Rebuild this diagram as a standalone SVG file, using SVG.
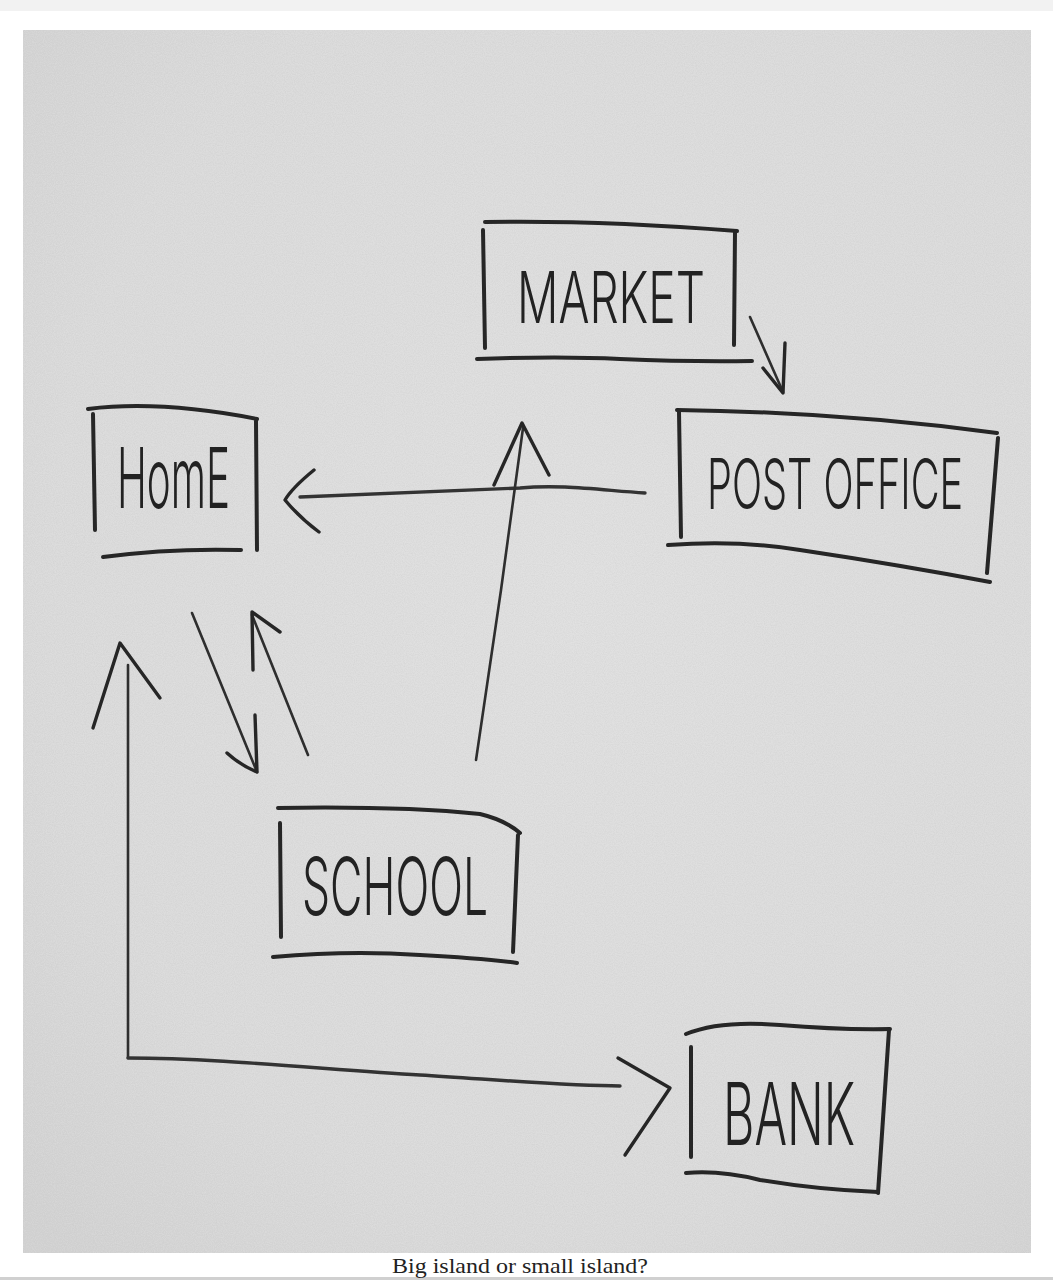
<svg xmlns="http://www.w3.org/2000/svg" width="1053" height="1280" viewBox="0 0 1053 1280">
  <defs>
    <radialGradient id="paper" cx="0.55" cy="0.45" r="0.75">
      <stop offset="0" stop-color="#e5e5e5"/>
      <stop offset="0.7" stop-color="#e0e0e0"/>
      <stop offset="1" stop-color="#d8d8d8"/>
    </radialGradient>
    <filter id="grain" x="0" y="0" width="1" height="1">
      <feTurbulence type="fractalNoise" baseFrequency="0.9" numOctaves="2" seed="3" result="n"/>
      <feColorMatrix type="matrix" values="0 0 0 0 0  0 0 0 0 0  0 0 0 0 0  0 0 0 0.06 0" in="n" result="g"/>
      <feComposite in="g" in2="SourceGraphic" operator="in"/>
    </filter>
    <style>
      .box { fill: none; stroke: #262626; stroke-width: 4; stroke-linecap: round; stroke-linejoin: round; }
      .wire { fill: none; stroke: #2e2e2e; stroke-width: 2.6; stroke-linecap: round; stroke-linejoin: round; }
      .wire.thick { stroke-width: 3.4; stroke: #333333; }
      .head { fill: none; stroke: #262626; stroke-width: 3.4; stroke-linecap: round; stroke-linejoin: round; }
      .lbl { font-family: Inter, "Liberation Sans", sans-serif; font-weight: 300; fill: #222222; }
      .cap { font-family: "Liberation Serif", serif; font-size: 21px; fill: #222222; }
    </style>
  </defs>

  <!-- page -->
  <rect x="0" y="0" width="1053" height="1280" fill="#ffffff"/>
  <rect x="0" y="0" width="1053" height="11" fill="#f2f2f2"/>
  <rect x="0" y="1277" width="1053" height="3" fill="#d0d0d0"/>
  <!-- photo of paper -->
  <rect x="23" y="30" width="1008" height="1223" fill="url(#paper)"/>
  <rect x="23" y="30" width="1008" height="1223" fill="#000" filter="url(#grain)"/>

  <!-- connectors -->
  <g id="connectors">
    <!-- Market -> Post office -->
    <g id="edge-market-post">
      <path class="wire" d="M750,317 L783,392"/>
      <path class="head" d="M763,368 L783,393 L785,343"/>
    </g>
    <!-- Post office -> Home -->
    <g id="edge-post-home">
      <path class="wire thick" d="M645,493 C600,490 560,484 520,488 L300,497"/>
      <path class="head" d="M314,470 Q292,488 285,500 Q300,518 319,532"/>
    </g>
    <!-- School -> Market -->
    <g id="edge-school-market">
      <path class="wire" d="M476,760 L501,590 L523,428"/>
      <path class="head" d="M494,485 L522,423 L549,475"/>
    </g>
    <!-- Home -> School -->
    <g id="edge-home-school">
      <path class="wire" d="M192,613 L257,772"/>
      <path class="head" d="M227,753 Q240,765 257,772 L255,715"/>
    </g>
    <!-- School -> Home -->
    <g id="edge-school-home">
      <path class="wire" d="M308,755 L252,615"/>
      <path class="head" d="M253,670 L252,612 L280,632"/>
    </g>
    <!-- Bank <-> Home -->
    <g id="edge-home-bank">
      <path class="wire" d="M128,665 L128,1058"/>
      <path class="wire thick" d="M128,1058 C220,1058 330,1070 420,1075 C500,1080 570,1086 620,1086"/>
      <path class="head" d="M93,728 L120,643 L160,698"/>
      <path class="head" d="M618,1058 L670,1088 L625,1155"/>
    </g>
  </g>

  <!-- nodes -->
  <g id="node-market">
    <path class="box" d="M485,222 Q600,220 737,231"/>
    <path class="box" d="M483,230 L485,348"/>
    <path class="box" d="M735,232 L734,345"/>
    <path class="box" d="M477,359 Q560,356 620,359 Q690,362 752,361"/>
    <text class="lbl" x="517" y="323" font-size="72" textLength="188" lengthAdjust="spacingAndGlyphs">MARKET</text>
  </g>

  <g id="node-post-office">
    <path class="box" d="M677,410 Q840,412 997,433"/>
    <path class="box" d="M679,412 L681,537"/>
    <path class="box" d="M998,438 L987,573"/>
    <path class="box" d="M668,545 Q740,540 800,550 Q900,565 990,582"/>
    <text class="lbl" transform="translate(707,509) scale(0.6,1)" x="0" y="0" font-size="70" textLength="427" lengthAdjust="spacingAndGlyphs">POST OFFICE</text>
  </g>

  <g id="node-home">
    <path class="box" d="M88,409 Q160,400 257,419"/>
    <path class="box" d="M93,414 L95,530"/>
    <path class="box" d="M256,421 L257,550"/>
    <path class="box" d="M103,557 Q170,548 241,550"/>
    <text class="lbl" x="117" y="508" font-size="84" textLength="113" lengthAdjust="spacingAndGlyphs">HomE</text>
  </g>

  <g id="node-school">
    <path class="box" d="M278,808 Q400,806 480,814 Q505,820 520,833"/>
    <path class="box" d="M280,823 L281,937"/>
    <path class="box" d="M518,835 L513,952"/>
    <path class="box" d="M273,957 Q350,950 420,955 Q480,958 517,963"/>
    <text class="lbl" x="302" y="915" font-size="80" textLength="186" lengthAdjust="spacingAndGlyphs">SCHOOL</text>
  </g>

  <g id="node-bank">
    <path class="box" d="M686,1034 Q720,1020 780,1025 Q840,1030 890,1029"/>
    <path class="box" d="M691,1047 L691,1157"/>
    <path class="box" d="M889,1030 L878,1193"/>
    <path class="box" d="M686,1173 Q720,1170 760,1180 Q820,1190 878,1192"/>
    <text class="lbl" x="723" y="1145" font-size="86" textLength="132" lengthAdjust="spacingAndGlyphs">BANK</text>
  </g>

  <text class="cap" x="392" y="1273" textLength="256" lengthAdjust="spacingAndGlyphs">Big island or small island?</text>
</svg>
